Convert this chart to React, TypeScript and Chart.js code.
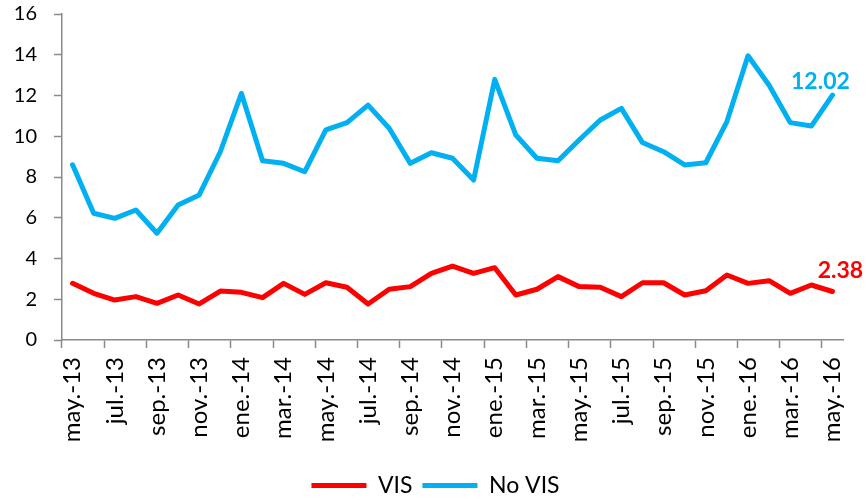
import React, { useEffect, useRef } from "react";
import { Chart, registerables } from "chart.js";

Chart.register(...registerables);

const categories = [
  "may.-13", "jun.-13", "jul.-13", "ago.-13", "sep.-13", "oct.-13", "nov.-13", "dic.-13",
  "ene.-14", "feb.-14", "mar.-14", "abr.-14", "may.-14", "jun.-14", "jul.-14", "ago.-14",
  "sep.-14", "oct.-14", "nov.-14", "dic.-14", "ene.-15", "feb.-15", "mar.-15", "abr.-15",
  "may.-15", "jun.-15", "jul.-15", "ago.-15", "sep.-15", "oct.-15", "nov.-15", "dic.-15",
  "ene.-16", "feb.-16", "mar.-16", "abr.-16", "may.-16",
];

const visValues = [
  2.78, 2.29, 1.96, 2.13, 1.8, 2.21, 1.77, 2.4, 2.34, 2.08, 2.78, 2.24, 2.81, 2.59, 1.77,
  2.49, 2.62, 3.27, 3.63, 3.27, 3.55, 2.21, 2.49, 3.11, 2.62, 2.59, 2.13, 2.81, 2.81, 2.21,
  2.42, 3.19, 2.78, 2.91, 2.29, 2.7, 2.38,
];

const noVisValues = [
  8.6, 6.22, 5.97, 6.38, 5.24, 6.63, 7.12, 9.24, 12.1, 8.8, 8.67, 8.26, 10.31, 10.67, 11.53,
  10.39, 8.67, 9.19, 8.92, 7.85, 12.79, 10.06, 8.92, 8.8, 9.82, 10.8, 11.37, 9.69, 9.24, 8.59,
  8.7, 10.72, 13.95, 12.5, 10.67, 10.5, 12.02,
];

const seriesNames = ["VIS", "No VIS"];
const seriesColors = ["#FF0000", "#00B0F0"];
const yTicks = { min: 0, max: 16, step: 2 };

const FONT = "Lato, 'Open Sans', sans-serif";
const AXIS = "#8a8a8a";

const lastLabelPlugin = {
  id: "lastLabel",
  afterDatasetsDraw(chart: any) {
    const ctx = chart.ctx;
    const offsets = [
      { dx: 8, dy: -21 },
      { dx: -12, dy: -14 },
    ];
    chart.data.datasets.forEach((ds: any, i: number) => {
      const meta = chart.getDatasetMeta(i);
      const n = ds.data.length - 1;
      const pt = meta.data[n];
      if (!pt) return;
      ctx.save();
      ctx.font = `bold 23px ${FONT}`;
      ctx.fillStyle = ds.borderColor;
      ctx.textAlign = "center";
      ctx.textBaseline = "middle";
      ctx.fillText(Number(ds.data[n]).toFixed(2), pt.x + offsets[i].dx, pt.y + offsets[i].dy);
      ctx.restore();
    });
  },
};

const legendShiftPlugin = {
  id: "legendShift",
  afterLayout(chart: any) {
    if (chart.legend) {
      chart.legend.left += 14;
      chart.legend.right += 14;
    }
  },
};

export default function App() {
  const ref = useRef<HTMLCanvasElement | null>(null);

  useEffect(() => {
    if (!ref.current) return;
    const chart = new Chart(ref.current, {
      type: "line",
      data: {
        labels: categories,
        datasets: [
          {
            label: seriesNames[0],
            data: visValues,
            borderColor: seriesColors[0],
            backgroundColor: seriesColors[0],
            borderWidth: 5,
            pointRadius: 0,
            borderJoinStyle: "round",
            borderCapStyle: "round",
            tension: 0,
          },
          {
            label: seriesNames[1],
            data: noVisValues,
            borderColor: seriesColors[1],
            backgroundColor: seriesColors[1],
            borderWidth: 5,
            pointRadius: 0,
            borderJoinStyle: "round",
            borderCapStyle: "round",
            tension: 0,
          },
        ],
      },
      options: {
        responsive: false,
        animation: false,
        layout: { padding: { top: 14, right: 24, left: 0, bottom: -7 } },
        plugins: {
          legend: {
            position: "bottom",
            labels: {
              font: { family: FONT, size: 23 },
              color: "#000",
              boxWidth: 55,
              boxHeight: 5,
              padding: 10,
              useBorderRadius: true,
              borderRadius: 2.5,
              generateLabels: (c: any) =>
                c.data.datasets.map((ds: any, i: number) => ({
                  text: ds.label,
                  fillStyle: ds.borderColor,
                  strokeStyle: ds.borderColor,
                  lineWidth: 0,
                  hidden: false,
                  datasetIndex: i,
                  fontColor: "#000",
                })),
            },
          },
          tooltip: { enabled: false },
        },
        scales: {
          x: {
            offset: true,
            grid: {
              offset: true,
              drawOnChartArea: false,
              drawTicks: true,
              tickLength: 8,
              tickWidth: 1.5,
              tickColor: (ctx: any) => (ctx.index !== undefined && ctx.index % 2 === 0 ? AXIS : "rgba(0,0,0,0)"),
            },
            border: { display: true, color: AXIS, width: 1.5 },
            ticks: {
              autoSkip: false,
              minRotation: 90,
              maxRotation: 90,
              padding: 9,
              color: "#000",
              font: { family: FONT, size: 24 },
              callback: (_v: any, idx: number) => (idx % 2 === 0 ? categories[idx] : ""),
            },
            afterFit: (scale: any) => {
              scale.height = 124;
              scale.paddingLeft = 0;
              scale.paddingRight = 0;
            },
          },
          y: {
            min: yTicks.min,
            max: yTicks.max,
            grid: {
              drawOnChartArea: false,
              drawTicks: true,
              tickLength: 8,
              tickWidth: 1.5,
              tickColor: AXIS,
            },
            border: { display: true, color: AXIS, width: 1.5 },
            ticks: {
              stepSize: yTicks.step,
              padding: 17,
              color: "#000",
              font: { family: FONT, size: 20 },
            },
            afterFit: (scale: any) => {
              scale.width = 62;
              scale.paddingTop = 0;
              scale.paddingBottom = 0;
            },
          },
        },
      },
      plugins: [lastLabelPlugin, legendShiftPlugin],
    } as any);
    return () => chart.destroy();
  }, []);

  return (
    <div style={{ position: "absolute", left: 0, top: 0, width: 867, height: 500, background: "#fff" }}>
      <canvas ref={ref} width={867} height={500} style={{ display: "block" }} />
    </div>
  );
}
